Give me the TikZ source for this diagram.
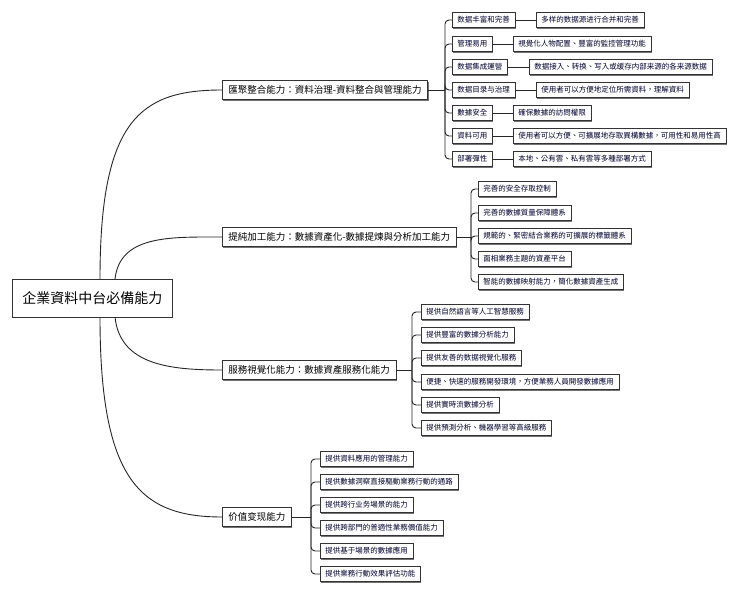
\documentclass[tikz,border=0pt]{standalone}
\usepackage{fontspec}
\setmainfont{Noto Sans CJK TC}
\usetikzlibrary{shadows}

\tikzset{
    box/.style = {draw=black!80, fill=white, line width=0.6pt, inner sep=3pt, anchor=west,
        drop shadow={shadow xshift=1pt, shadow yshift=-1pt, fill=black!55, opacity=1}},
    leaf/.style = {box, font=\fontsize{7.5}{9}\selectfont, text=black!70!blue!60!black, minimum height=15pt, inner xsep=5pt},
    branch/.style = {box, font=\fontsize{9.5}{11}\selectfont, minimum height=19pt, inner xsep=6pt},
    link/.style = {line width=0.9pt, black!85}
}

\begin{document}
\begin{tikzpicture}[x=1pt, y=-1pt]
    \useasboundingbox (0,0) rectangle (740,589);

    % root
    \node[box, font=\fontsize{14}{16}\selectfont, minimum height=38pt, inner xsep=10pt] (root) at (12, 298) {企業資料中台必備能力};

    % main branches
    \node[branch] (b1) at (222, 90) {匯聚整合能力：資料治理-資料整合與管理能力};
    \node[branch] (b2) at (222, 237) {提純加工能力：數據資產化-數據提煉與分析加工能力};
    \node[branch] (b3) at (222, 370) {服務視覺化能力：數據資產服務化能力};
    \node[branch] (b4) at (222, 517) {价值变现能力};

    \draw[link] (100, 279) .. controls (100, 120) and (140, 90) .. (b1.west);
    \draw[link] (115, 279) .. controls (120, 235) and (170, 237) .. (b2.west);
    \draw[link] (115, 317) .. controls (120, 365) and (170, 370) .. (b3.west);
    \draw[link] (100, 317) .. controls (100, 480) and (140, 517) .. (b4.west);

    % branch 1
    \node[leaf] (a1) at (452, 20) {数据丰富和完善};
    \node[leaf] (a2) at (452, 44) {管理易用};
    \node[leaf] (a3) at (452, 67) {数据集成運營};
    \node[leaf] (a4) at (452, 90) {数据目录与治理};
    \node[leaf] (a5) at (452, 113) {數據安全};
    \node[leaf] (a6) at (452, 136) {資料可用};
    \node[leaf] (a7) at (452, 159) {部署彈性};
    \node[leaf] (g1) at (536, 20) {多样的数据源进行合并和完善};
    \node[leaf] (g2) at (513, 44) {視覺化人物配置、豐富的監控管理功能};
    \node[leaf] (g3) at (529, 67) {数据接入、转换、写入或缓存内部来源的各来源数据};
    \node[leaf] (g4) at (536, 90) {使用者可以方便地定位所需資料，理解資料};
    \node[leaf] (g5) at (513, 113) {確保數據的訪問權限};
    \node[leaf] (g6) at (513, 136) {使用者可以方便、可擴展地存取異構數據，可用性和易用性高};
    \node[leaf] (g7) at (513, 159) {本地、公有雲、私有雲等多種部署方式};
    \coordinate (k1) at (445, 90);
    \draw[link] (b1.east) -- (k1);
    \foreach \i in {1,...,7} {
        \draw[link, rounded corners=4pt] (k1) |- (a\i.west);
        \draw[link] (a\i.east) -- (g\i.west);
    }

    % branch 2
    \node[leaf] (c1) at (478, 189) {完善的安全存取控制};
    \node[leaf] (c2) at (478, 213) {完善的數據質量保障體系};
    \node[leaf] (c3) at (478, 236) {規範的、緊密結合業務的可擴展的標籤體系};
    \node[leaf] (c4) at (478, 259) {面相業務主題的資產平台};
    \node[leaf] (c5) at (478, 282) {智能的數據映射能力，簡化數據資產生成};
    \coordinate (k2) at (471, 237);
    \draw[link] (b2.east) -- (k2);
    \foreach \i in {1,...,5}
        \draw[link, rounded corners=4pt] (k2) |- (c\i.west);

    % branch 3
    \node[leaf] (d1) at (421, 312) {提供自然語言等人工智慧服務};
    \node[leaf] (d2) at (421, 335) {提供豐富的數據分析能力};
    \node[leaf] (d3) at (421, 358) {提供友善的数据視覺化服務};
    \node[leaf] (d4) at (421, 382) {便捷、快速的服務開發環境，方便業務人員開發數據應用};
    \node[leaf] (d5) at (421, 405) {提供實時流數據分析};
    \node[leaf] (d6) at (421, 428) {提供預測分析、機器學習等高級服務};
    \coordinate (k3) at (412, 370);
    \draw[link] (b3.east) -- (k3);
    \foreach \i in {1,...,6}
        \draw[link, rounded corners=4pt] (k3) |- (d\i.west);

    % branch 4
    \node[leaf] (e1) at (320, 459) {提供資料應用的管理能力};
    \node[leaf] (e2) at (320, 482) {提供數據洞察直接驅動業務行動的通路};
    \node[leaf] (e3) at (320, 505) {提供跨行业务場景的能力};
    \node[leaf] (e4) at (320, 528) {提供跨部門的普適性業務價值能力};
    \node[leaf] (e5) at (320, 551) {提供基于場景的數據應用};
    \node[leaf] (e6) at (320, 574) {提供業務行動效果評估功能};
    \coordinate (k4) at (311, 517);
    \draw[link] (b4.east) -- (k4);
    \foreach \i in {1,...,6}
        \draw[link, rounded corners=4pt] (k4) |- (e\i.west);
\end{tikzpicture}
\end{document}
